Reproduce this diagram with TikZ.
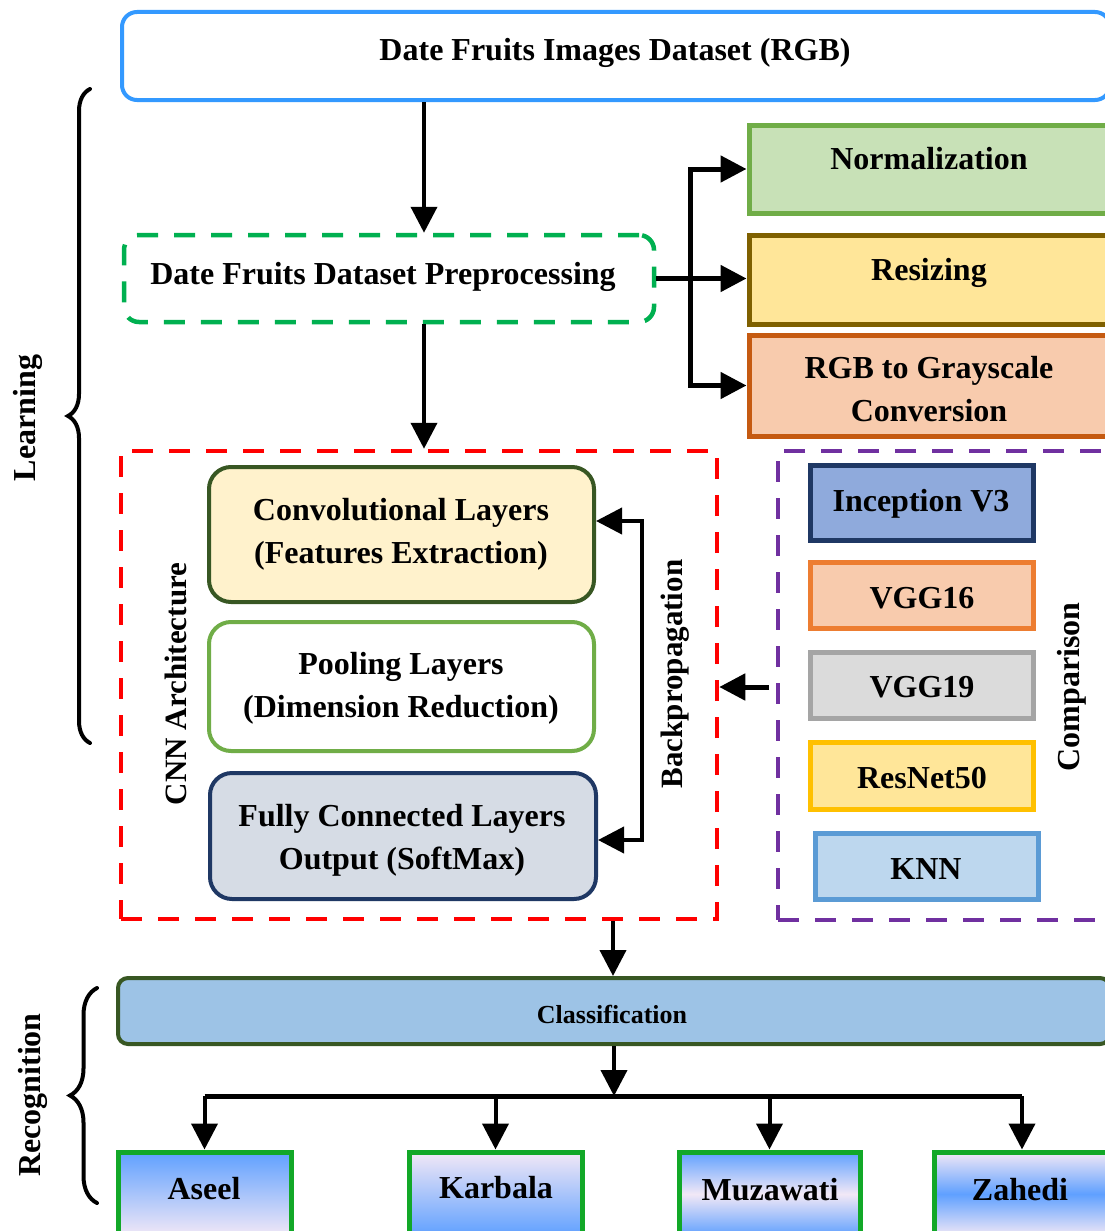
\documentclass[tikz,border=0pt]{standalone}
\usepackage{fontspec}
\setmainfont{Liberation Serif}
\usetikzlibrary{arrows.meta,decorations.pathreplacing,calc}
\definecolor{topblue}{RGB}{51,153,255}
\definecolor{pregreen}{RGB}{0,176,80}
\definecolor{normfill}{RGB}{200,225,183}
\definecolor{normline}{RGB}{112,173,71}
\definecolor{resfill}{RGB}{255,230,153}
\definecolor{resline}{RGB}{127,96,0}
\definecolor{rgbfill}{RGB}{248,203,173}
\definecolor{rgbline}{RGB}{197,90,17}
\definecolor{convfill}{RGB}{255,242,204}
\definecolor{darkgreen}{RGB}{56,87,35}
\definecolor{fcfill}{RGB}{214,220,229}
\definecolor{navy}{RGB}{31,56,100}
\definecolor{purp}{RGB}{112,48,160}
\definecolor{incfill}{RGB}{143,170,220}
\definecolor{vggline}{RGB}{237,125,49}
\definecolor{greyfill}{RGB}{219,219,219}
\definecolor{greyline}{RGB}{165,165,165}
\definecolor{goldline}{RGB}{255,192,0}
\definecolor{knnfill}{RGB}{189,215,238}
\definecolor{knnline}{RGB}{91,155,213}
\definecolor{clsfill}{RGB}{157,195,230}
\definecolor{cultgreen}{RGB}{18,168,40}
\definecolor{gblue}{RGB}{95,160,255}
\definecolor{glav}{RGB}{242,232,246}
\begin{document}
\begin{tikzpicture}[x=1pt,y=-1pt,
  box/.style={draw, line width=4pt, inner sep=0pt, anchor=center},
  txt/.style={font=\fontsize{32}{43}\selectfont\bfseries, align=center, inner sep=0pt},
  btxt/.style={txt, anchor=base},
  vtxt/.style={txt, anchor=base, rotate=90},
  arr/.style={line width=4pt, -{Triangle[length=26pt,width=26pt]}},
  dashbox/.style={draw, line width=4.5pt, dash pattern=on 21pt off 16pt, inner sep=0pt},
  cult/.style={box, draw=cultgreen, line width=5pt, minimum width=173pt, minimum height=84pt},
  brace/.style={decorate, line width=4pt, line cap=round}
]
\useasboundingbox[fill=white] (0,0) rectangle (1105,1231);

% ---------- top ----------
\node[box, draw=topblue, rounded corners=15pt, minimum width=988pt, minimum height=88pt] (top) at (616,56) {};
\node[btxt] (topT) at (615,61) {Date Fruits Images Dataset (RGB)};

\node[dashbox, draw=pregreen, rounded corners=15pt, minimum width=530pt, minimum height=87pt] (pre) at (389,278.5) {};
\node[btxt] (preT) at (383,284) {Date Fruits Dataset Preprocessing};

\node[box, draw=normline, fill=normfill, line width=5pt, minimum width=361pt, minimum height=88pt] (norm) at (929.5,169) {};
\node[btxt] (normT) at (929,169) {Normalization};
\node[box, draw=resline, fill=resfill, line width=5pt, minimum width=361pt, minimum height=89pt] (res) at (929.5,279.5) {};
\node[btxt] (resT) at (929,280) {Resizing};
\node[box, draw=rgbline, fill=rgbfill, line width=5pt, minimum width=361pt, minimum height=101pt] (rgb) at (929.5,385.5) {};
\node[txt] (rgbT) at (929,389) {RGB to Grayscale\\Conversion};

% ---------- CNN ----------
\node[dashbox, draw=red, minimum width=596pt, minimum height=468pt] (cnn) at (419,685) {};
\node[box, draw=darkgreen, fill=convfill, rounded corners=22pt, minimum width=385pt, minimum height=135pt] (conv) at (401.5,534.5) {};
\node[txt] (convT) at (401,534) {Convolutional Layers\\(Features Extraction)};
\node[box, draw=normline, fill=white, rounded corners=22pt, minimum width=385pt, minimum height=129pt] (pool) at (401.5,686.5) {};
\node[txt] (poolT) at (401,688) {Pooling Layers\\(Dimension Reduction)};
\node[box, draw=navy, fill=fcfill, rounded corners=22pt, minimum width=386pt, minimum height=126pt] (fc) at (403,836) {};
\node[txt] (fcT) at (402,840) {Fully Connected Layers\\Output (SoftMax)};
\node[vtxt, font=\fontsize{31}{36}\selectfont\bfseries] (cnnT) at (186,684) {CNN Architecture};
\node[vtxt, font=\fontsize{31}{36}\selectfont\bfseries] (bpT) at (682,674) {Backpropagation};

% ---------- comparison ----------
\node[dashbox, draw=purp, minimum width=334pt, minimum height=469pt] (cmp) at (945,685.5) {};
\node[box, draw=navy, fill=incfill, line width=5pt, minimum width=223pt, minimum height=75pt] (inc) at (921.5,502.5) {};
\node[btxt] (incT) at (921,511) {Inception V3};
\node[box, draw=vggline, fill=rgbfill, line width=5pt, minimum width=223pt, minimum height=66pt] (v16) at (921.5,595) {};
\node[btxt] (v16T) at (922,608) {VGG16};
\node[box, draw=greyline, fill=greyfill, line width=5pt, minimum width=223pt, minimum height=66pt] (v19) at (921.5,685) {};
\node[btxt] (v19T) at (922,697) {VGG19};
\node[box, draw=goldline, fill=resfill, line width=5pt, minimum width=223pt, minimum height=67pt] (rn) at (921.5,775.5) {};
\node[btxt] (rnT) at (922,788) {ResNet50};
\node[box, draw=knnline, fill=knnfill, line width=5pt, minimum width=223pt, minimum height=66pt] (knn) at (926.5,866) {};
\node[btxt] (knnT) at (926,879) {KNN};
\node[vtxt] (cmpT) at (1079,687) {Comparison};

% ---------- recognition ----------
\node[box, draw=darkgreen, fill=clsfill, rounded corners=10pt, minimum width=992pt, minimum height=66pt] (cls) at (614,1011) {};
\node[txt, anchor=base, font=\fontsize{26}{30}\selectfont\bfseries] (clsT) at (612,1023) {Classification};

\node[cult, top color=gblue, bottom color=glav] (aseel) at (204.5,1194) {};
\node[btxt] (aseelT) at (204,1199) {Aseel};
\node[cult, top color=glav, bottom color=gblue] (karb) at (495.5,1194) {};
\node[btxt] (karbT) at (496,1198) {Karbala};
\node[cult, top color=gblue, bottom color=gblue, middle color=glav, minimum width=181pt] (muza) at (769.5,1194) {};
\node[btxt] (muzaT) at (770,1200) {Muzawati};
\node[cult, top color=glav, bottom color=glav, middle color=gblue, minimum width=176pt] (zah) at (1022,1194) {};
\node[btxt] (zahT) at (1020,1200) {Zahedi};

% ---------- side labels / braces ----------
\node[vtxt] (learnT) at (35,418) {Learning};
\node[vtxt] (recT) at (40,1095) {Recognition};
\coordinate (lb1) at (90,743);
\coordinate (lb2) at (90,89);
\draw[brace, decoration={brace, amplitude=22pt}] (lb1) -- (lb2);
\coordinate (rb1) at (97,1203);
\coordinate (rb2) at (97,988);
\draw[brace, decoration={brace, amplitude=27pt}] (rb1) -- (rb2);

% ---------- connectors ----------
\coordinate (colA) at (424,0);
\coordinate (colB) at (613,0);
\coordinate (bx) at (690,0);
\draw[arr] (top.south -| colA) -- (pre.north -| colA);
\draw[arr] (pre.south -| colA) -- (cnn.north -| colA);
\draw[arr, line width=5pt] (pre.east) -- (pre.east -| res.west);
\draw[arr, line width=5pt] (bx |- pre.east) |- (norm.west);
\draw[arr, line width=5pt] (bx |- pre.east) |- (rgb.west);

\coordinate (bp1) at (642,521);
\coordinate (bp2) at (642,840);
\draw[line width=4pt, {Triangle[length=26pt,width=26pt]}-{Triangle[length=26pt,width=26pt]}]
  (bp1 -| conv.east) -- (bp1) -- (bp2) -- (bp2 -| fc.east);

\coordinate (cmpStart) at (769,687);
\draw[arr, line width=5pt] (cmpStart) -- (cmpStart -| cnn.east);

\draw[arr] (cnn.south -| colB) -- (cls.north -| colB);
\coordinate (bar) at (0,1096);
\draw[arr] (cls.south) -- (cls.south |- bar);
\draw[line width=5pt] (aseel.north |- bar) -- (zah.north |- bar);
\draw[arr] (aseel.north |- bar) -- (aseel.north);
\draw[arr] (karb.north |- bar) -- (karb.north);
\draw[arr] (muza.north |- bar) -- (muza.north);
\draw[arr] (zah.north |- bar) -- (zah.north);
\end{tikzpicture}
\end{document}
